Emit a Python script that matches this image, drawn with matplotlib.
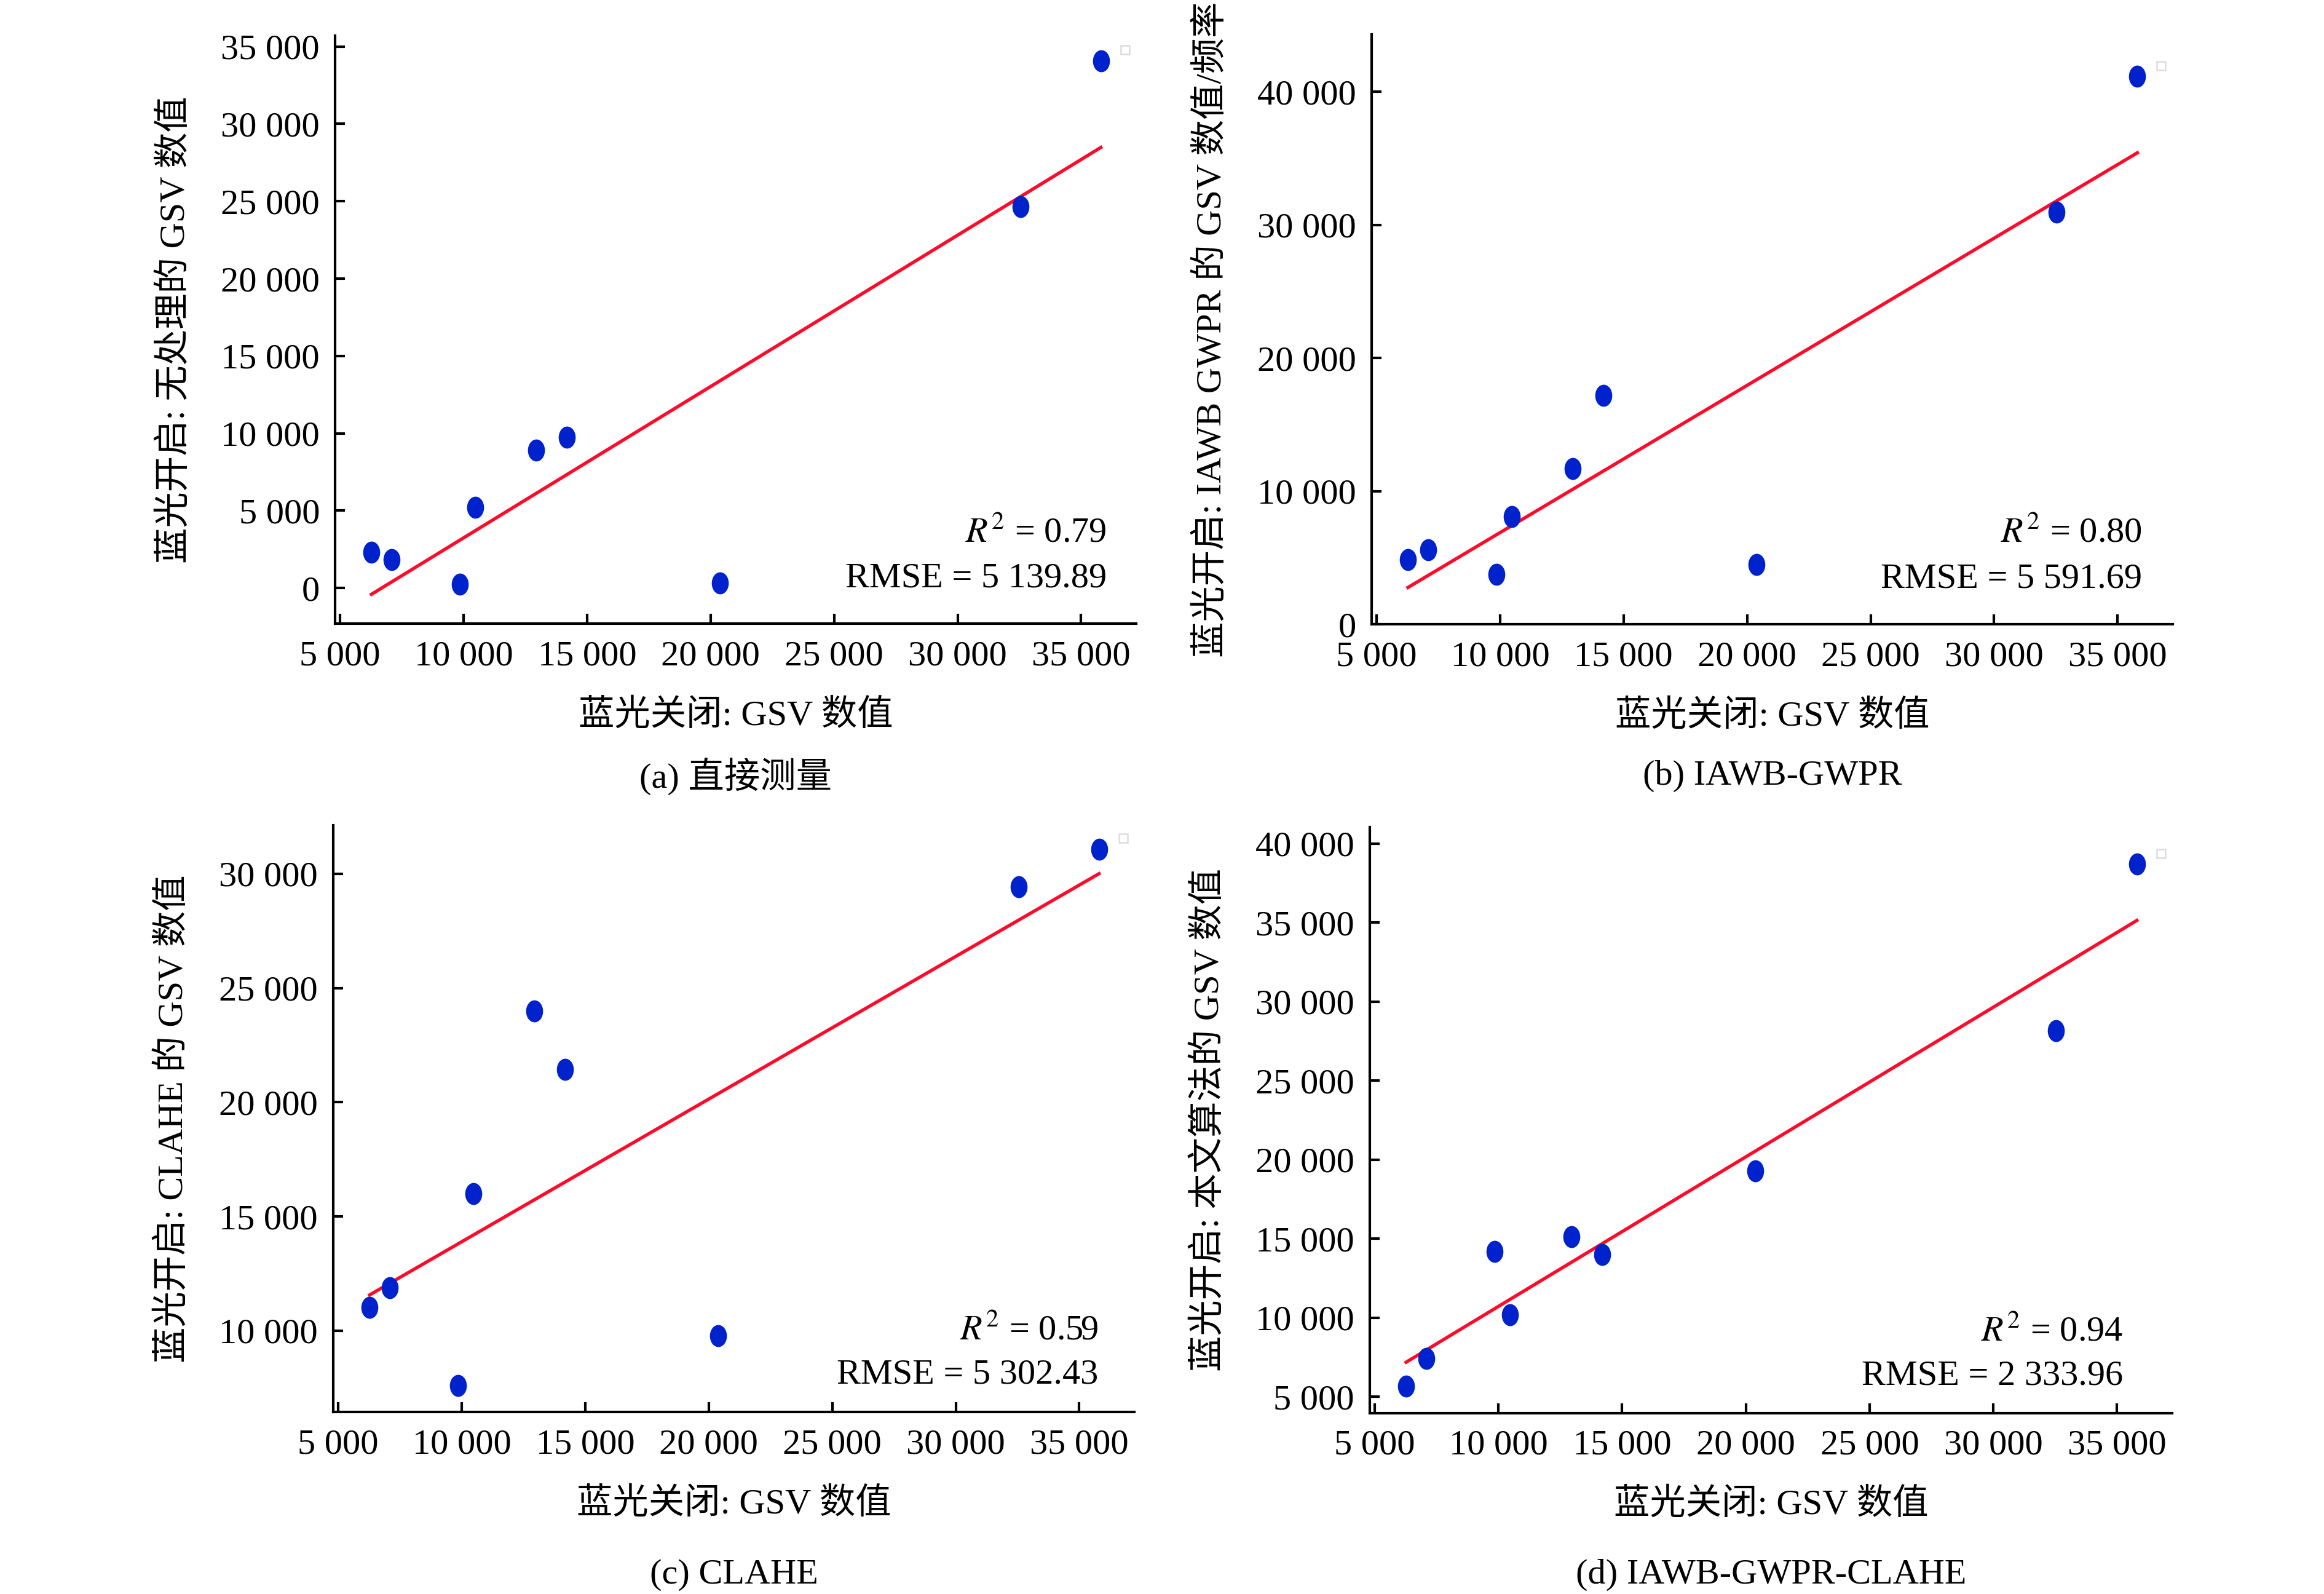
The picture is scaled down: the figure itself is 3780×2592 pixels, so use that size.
import matplotlib
matplotlib.use('Agg')
import matplotlib.pyplot as plt
import numpy as np
from matplotlib.path import Path
from matplotlib.ticker import FuncFormatter

plt.rcParams['font.family'] = ['Liberation Serif', 'Noto Sans CJK SC']
plt.rcParams['mathtext.fontset'] = 'stix'
plt.rcParams['axes.unicode_minus'] = False

# 蓝光关闭时的 GSV 数值（横轴，四幅图共用）
gsv_off = [6270, 7080, 9850, 10470, 12940, 14190, 20380, 32540, 35800]

# 蓝光开启时各方法的 GSV 数值
gsv_direct = [2310, 1850, 260, 5220, 8920, 9740, 330, 24670, 34080]
gsv_iawb = [4860, 5600, 3760, 8100, 11700, 17170, 4470, 30930, 41160]
gsv_clahe = [11010, 11880, 7600, 16000, 24000, 21430, 9770, 29440, 31080]
gsv_ours = [5680, 7400, 14170, 10180, 15130, 14010, 19300, 28150, 38720]

r2_text = ['0.79', '0.80', '0.59', '0.94']
rmse_text = ['5 139.89', '5 591.69', '5 302.43', '2 333.96']

ylabels = ['蓝光开启: 无处理的 GSV 数值',
           '蓝光开启: IAWB GWPR 的 GSV 数值/频率',
           '蓝光开启: CLAHE 的 GSV 数值',
           '蓝光开启: 本文算法的 GSV 数值']
captions = ['(a) 直接测量', '(b) IAWB-GWPR', '(c) CLAHE', '(d) IAWB-GWPR-CLAHE']

xticks = [5000, 10000, 15000, 20000, 25000, 30000, 35000]
yticks_list = [[0, 5000, 10000, 15000, 20000, 25000, 30000, 35000],
               [0, 10000, 20000, 30000, 40000],
               [10000, 15000, 20000, 25000, 30000],
               [5000, 10000, 15000, 20000, 25000, 30000, 35000, 40000]]
ylims = [(-2300, 35700), (0, 44300), (6440, 32130), (3960, 41040)]

# 右上角那个小方框（原图残留的图例框）
box_x = 36770
box_y = [34770, 41930, 31570, 39370]

# 椭圆形的点
circ = Path.unit_circle()
ellipse = Path(circ.vertices * [0.74, 1.0], circ.codes)


def fmt(v, pos):
    return '{:,}'.format(int(v)).replace(',', ' ')


def draw_panel(ax, ys, k):
    x = np.array(gsv_off, dtype=float)
    y = np.array(ys, dtype=float)
    # 线性拟合
    k1, b1 = np.polyfit(x, y, 1)
    xl = np.array([x.min(), x.max()])
    ax.plot(xl, k1 * xl + b1, '-', color='#ff0a2a', lw=1.3, zorder=2)
    ax.plot(x, y, linestyle='none', marker=ellipse, markersize=7.6,
            color='#0022cc', zorder=3)
    ax.plot([box_x], [box_y[k]], linestyle='none', marker='s', markersize=3.5,
            markerfacecolor='none', markeredgecolor='#dcdcdc', markeredgewidth=0.6)

    ax.set_xlim(4800, 37230)
    ax.set_ylim(*ylims[k])
    ax.set_xticks(xticks)
    ax.set_yticks(yticks_list[k])
    ax.xaxis.set_major_formatter(FuncFormatter(fmt))
    ax.yaxis.set_major_formatter(FuncFormatter(fmt))
    ax.spines['top'].set_visible(False)
    ax.spines['right'].set_visible(False)
    ax.spines['left'].set_linewidth(1.0)
    ax.spines['bottom'].set_linewidth(1.0)
    ax.tick_params(axis='both', direction='in', length=3.8, width=1.0, labelsize=14)
    ax.tick_params(axis='x', pad=6.5)
    ax.tick_params(axis='y', pad=6)

    ax.set_xlabel('蓝光关闭: GSV 数值', fontsize=14)
    ax.xaxis.set_label_coords(0.5, -0.128)
    ax.set_ylabel(ylabels[k], fontsize=14)
    ax.yaxis.set_label_coords(-0.179, 0.5)

    tx = [0.963, 0.962, 0.955, 0.939][k]
    ty = [(0.154, 0.077), (0.154, 0.077), (0.138, 0.063), (0.138, 0.063)][k]
    ax.text(tx, ty[0], '$R^2$ = ' + r2_text[k], transform=ax.transAxes,
            ha='right', va='center', fontsize=14)
    ax.text(tx, ty[1], 'RMSE = ' + rmse_text[k], transform=ax.transAxes,
            ha='right', va='center', fontsize=14)


fig = plt.figure(figsize=(12.6, 8.64), dpi=300)
rects = [[0.1442, 0.6088, 0.3447, 0.3688],
         [0.5902, 0.6084, 0.3447, 0.3700],
         [0.1434, 0.1142, 0.3447, 0.3681],
         [0.5894, 0.1135, 0.3453, 0.3676]]
all_y = [gsv_direct, gsv_iawb, gsv_clahe, gsv_ours]
cap_y = [0.513, 0.513, 0.012, 0.012]

for k in range(4):
    ax = fig.add_axes(rects[k])
    draw_panel(ax, all_y[k], k)
    r = rects[k]
    fig.text(r[0] + r[2] / 2, cap_y[k], captions[k], ha='center', va='center',
             fontsize=14)

fig.savefig('out.png', dpi=300)
